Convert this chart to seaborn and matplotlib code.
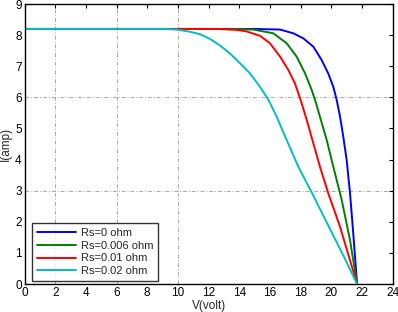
import matplotlib
matplotlib.use("Agg")
import matplotlib.pyplot as plt
import seaborn as sns
import pandas as pd

labels = ["Rs=0 ohm", "Rs=0.006 ohm", "Rs=0.01 ohm", "Rs=0.02 ohm"]
colors = ["#0000ff", "#008000", "#ff0000", "#00bfbf"]

v_rs0 = [0, 15.0, 16.66, 17.52, 18.17, 18.83, 19.37, 19.8, 20.13, 20.35, 20.57, 20.78, 21.0, 21.22, 21.43, 21.68]
i_rs0 = [8.2, 8.2, 8.18, 8.06, 7.9, 7.63, 7.2, 6.77, 6.34, 5.92, 5.38, 4.74, 3.99, 2.92, 1.63, 0.0]
v_rs006 = [0, 13.5, 14.92, 16.22, 17.09, 17.74, 18.29, 18.72, 18.94, 19.26, 19.7, 20.13, 20.68, 21.22, 21.68]
i_rs006 = [8.2, 8.2, 8.18, 8.06, 7.74, 7.31, 6.77, 6.24, 5.92, 5.38, 4.63, 3.77, 2.7, 1.41, 0.0]
v_rs01 = [0, 12.5, 13.83, 14.48, 15.35, 16.0, 16.66, 17.2, 17.63, 18.0, 18.4, 18.83, 19.26, 19.8, 20.57, 21.68]
i_rs01 = [8.2, 8.2, 8.17, 8.12, 7.98, 7.74, 7.31, 6.88, 6.45, 5.92, 5.27, 4.52, 3.77, 2.92, 1.84, 0.0]
v_rs02 = [0, 9.2, 9.92, 10.79, 11.44, 12.09, 12.74, 13.4, 14.0, 14.7, 15.35, 15.9, 16.44, 17.09, 17.85, 18.83, 19.7, 20.78, 21.68]
i_rs02 = [8.2, 8.2, 8.18, 8.11, 8.03, 7.88, 7.67, 7.41, 7.12, 6.77, 6.34, 5.92, 5.38, 4.63, 3.77, 2.84, 1.98, 0.92, 0.0]

grid_x = [2, 6, 10]
grid_y = [3, 6]

rows = []
for lab, vs, cs in zip(labels, [v_rs0, v_rs006, v_rs01, v_rs02], [i_rs0, i_rs006, i_rs01, i_rs02]):
    for v, c in zip(vs, cs):
        rows.append({"V": v, "I": c, "series": lab})
df = pd.DataFrame(rows)

sns.set_style("white")
plt.rcParams["font.family"] = ["Liberation Sans", "DejaVu Sans"]

fig = plt.figure(figsize=(3.98, 3.12), dpi=100)
ax = fig.add_axes([0.0616, 0.0897, 0.925, 0.8973])

for gx in grid_x:
    ax.axvline(gx, color="#a8a8a8", linestyle=(0, (4, 2, 1, 2)), linewidth=0.7, zorder=0)
for gy in grid_y:
    ax.axhline(gy, color="#a8a8a8", linestyle=(0, (4, 2, 1, 2)), linewidth=0.7, zorder=0)

sns.lineplot(data=df, x="V", y="I", hue="series", hue_order=labels,
             palette=colors, sort=False, estimator=None,
             linewidth=1.4, ax=ax)

ax.set_xlim(0, 24)
ax.set_ylim(0, 9)
ax.set_xticks(range(0, 25, 2))
ax.set_yticks(range(0, 10))
ax.grid(False)
ax.tick_params(direction="in", length=3, width=0.8, labelsize=8.5, top=True, right=True,
               colors="black", pad=2)
for s in ax.spines.values():
    s.set_color("black")
    s.set_linewidth(1.0)
ax.set_xlabel("V(volt)", fontsize=8.5, labelpad=1)
ax.set_ylabel("I(amp)", fontsize=8.5, labelpad=2)

leg = ax.legend(loc="lower left", bbox_to_anchor=(0.012, 0.0), fontsize=8, frameon=True,
                fancybox=False, handlelength=3.5, borderpad=0.4, labelspacing=0.25,
                handletextpad=0.5, borderaxespad=0.3)
leg.get_frame().set_edgecolor("black")
leg.get_frame().set_linewidth(1.0)

fig.savefig("out.png", dpi=100)
